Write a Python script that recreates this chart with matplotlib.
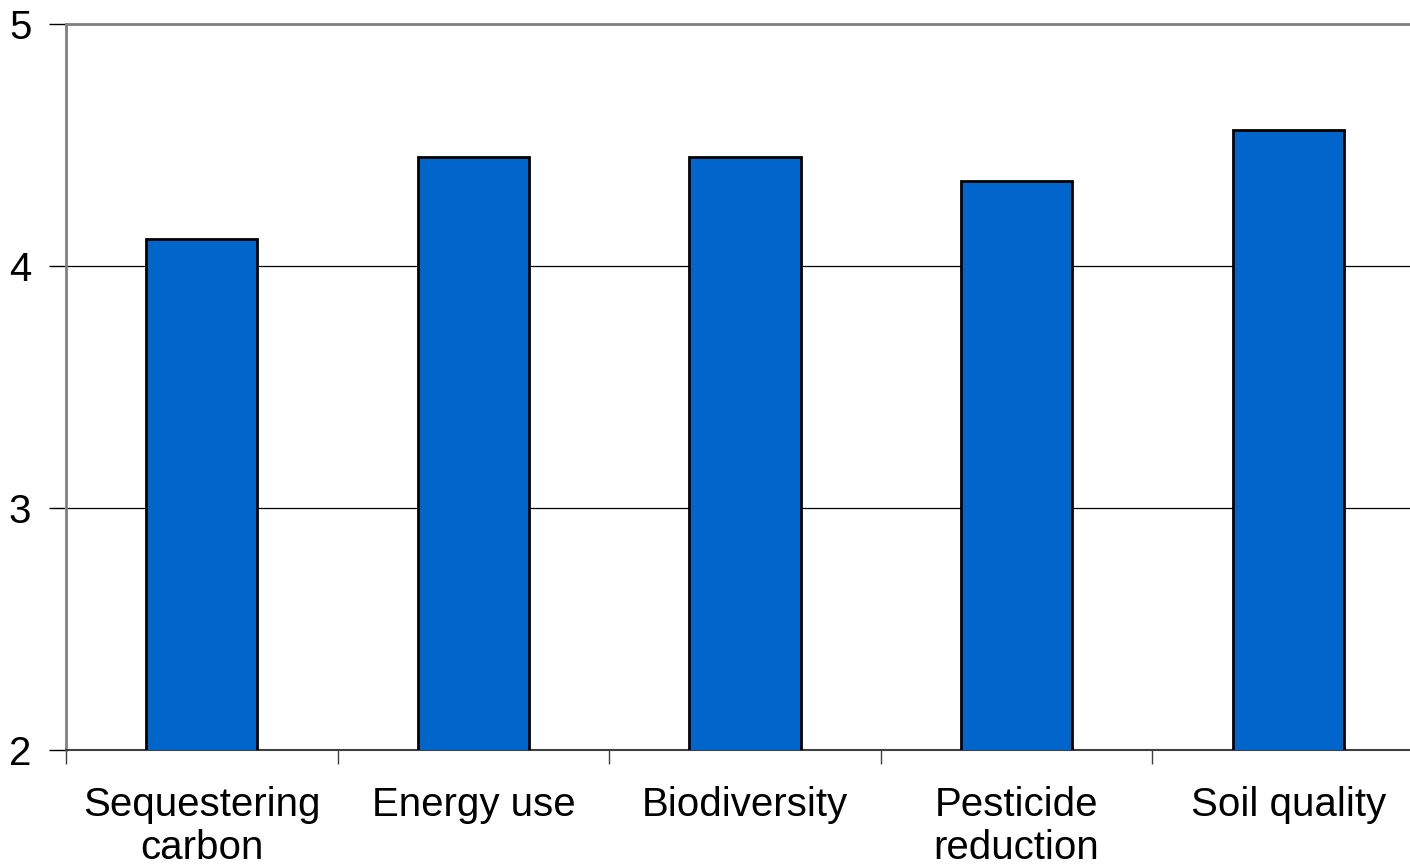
import matplotlib.pyplot as plt
import numpy as np

categories = ['Sequestering\ncarbon', 'Energy use', 'Biodiversity', 'Pesticide\nreduction', 'Soil quality']
values = [4.11, 4.45, 4.45, 4.35, 4.56]

plt.rcParams['font.family'] = ['Liberation Sans', 'DejaVu Sans']

fig = plt.figure(figsize=(14.1, 8.65), dpi=100)
ax = fig.add_axes([66/1410, 1-750/865, 1358/1410, (750-24)/865])

x = np.arange(len(categories))
ax.bar(x, values, width=0.41, bottom=0, color='#0066CC', edgecolor='black', linewidth=2, zorder=3)

ax.set_xlim(-0.5, len(categories)-0.5)
ax.set_ylim(2, 5)
ax.set_yticks([2, 3, 4, 5])
ax.yaxis.grid(True, color='black', linewidth=0.9, zorder=0)
ax.set_axisbelow(True)

ax.set_xticks(x)
ax.set_xticklabels(categories, fontsize=29, linespacing=1.15)
ax.set_xticks(np.arange(len(categories)+1)-0.5, minor=True)
ax.tick_params(axis='x', which='major', length=0, pad=26)
ax.tick_params(axis='x', which='minor', length=10, width=1, color='#404040')
ax.tick_params(axis='y', length=12, width=1, labelsize=29, pad=13)

for s in ['left', 'top']:
    ax.spines[s].set_color('#808080')
    ax.spines[s].set_linewidth(2)
ax.spines['bottom'].set_color('#404040')
ax.spines['bottom'].set_linewidth(1.5)
ax.spines['right'].set_visible(False)

plt.savefig('out.png', dpi=100)
